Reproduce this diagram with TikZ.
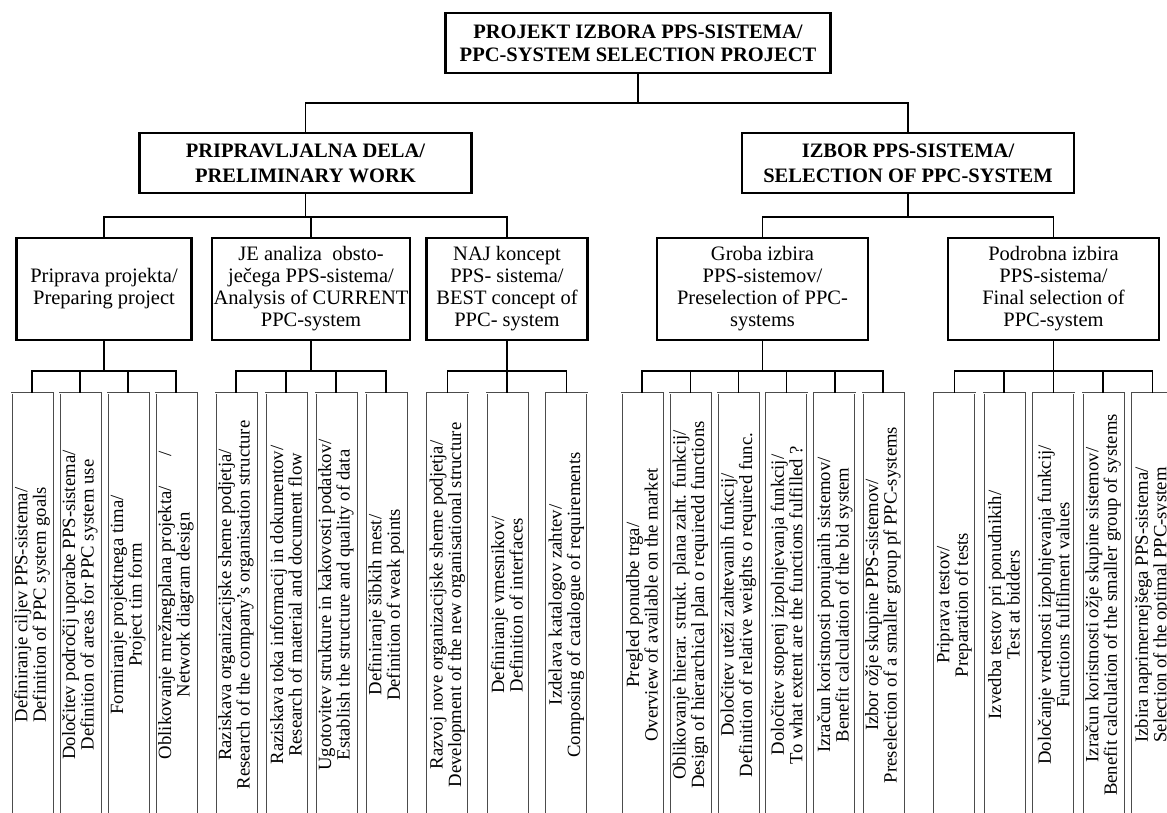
\documentclass[tikz,border=0pt]{standalone}
\usepackage{fontspec}
\setmainfont{Liberation Serif}
\usepackage{tikz}

\tikzset{
  topbox/.style={draw, line width=2.2pt, align=center, inner sep=2pt,
    minimum width=385pt, minimum height=60pt,
    font=\fontsize{20.5}{23}\selectfont\bfseries},
  groupbox/.style={topbox, minimum width=332pt,
    font=\fontsize{20.5}{25}\selectfont\bfseries},
  taskbox/.style={draw, line width=2.2pt, align=center, inner sep=2pt,
    minimum height=102pt, font=\fontsize{20.5}{22}\selectfont},
  leafbox/.style={draw=black!70, double=white, double distance=1pt,
    line width=.5pt, rotate=90, align=center, inner sep=.5pt,
    minimum width=424pt, minimum height=41pt,
    font=\fontsize{18.7}{18.5}\selectfont},
  fork drop/.style={edge from parent path={(\tikzparentnode.south)
    -- ++(0pt,-#1) -| (\tikzchildnode\tikzchildanchor)}}
}

\begin{document}
\begin{tikzpicture}
    [edge from parent/.style={draw, line width=1.4pt},
     level 1/.style={level distance=120pt, child anchor=north, fork drop=29pt},
     level 2/.style={level distance=126pt, child anchor=north, fork drop=23pt},
     level 3/.style={level distance=316pt, child anchor=east, fork drop=30pt}]
  \useasboundingbox (0pt,0pt) rectangle (1167pt,-813pt);
  \node (ROOT) [topbox] at (638pt,-43pt) {PROJEKT IZBORA PPS-SISTEMA/\\PPC-SYSTEM SELECTION PROJECT}
    [sibling distance=596pt]
    child[xshift=-34.5pt] {node (PREP) [groupbox] {PRIPRAVLJALNA DELA/\\PRELIMINARY WORK}
      [sibling distance=201.5pt]
      child {node (PP) [taskbox, minimum width=175pt] {Priprava projekta/\\Preparing project}
        [sibling distance=48pt]
        child {node (PP1) [leafbox] {Definiranje ciljev PPS-sistema/\\Definition of PPC system goals}}
        child {node (PP2) [leafbox] {Določitev področij uporabe PPS-sistema/\\Definition of areas for PPC system use}}
        child {node (PP3) [leafbox] {Formiranje projektnega tima/\\Project tim form}}
        child {node (PP4) [leafbox] {Oblikovanje mrežnegplana projekta/\hspace{30pt}/\\Network diagram design}}
      }
      child[xshift=5.5pt] {node (JE) [taskbox, minimum width=191pt] {JE analiza\ \ obsto-\\ječega PPS-sistema/\\Analysis of CURRENT\\PPC-system}
        [sibling distance=50pt]
        child {node (JE1) [leafbox] {Raziskava organizacijske sheme podjetja/\\Research of the company's organisation structure}}
        child {node (JE2) [leafbox] {Raziskava toka informacij in dokumentov/\\Research of material and document flow}}
        child {node (JE3) [leafbox] {Ugotovitev strukture in kakovosti podatkov/\\Establish the structure and quality of data}}
        child {node (JE4) [leafbox] {Definiranje šibkih mest/\\Definition of weak points}}
      }
      child {node (NAJ) [taskbox, minimum width=161pt] {NAJ koncept\\PPS- sistema/\\BEST concept of\\PPC- system}
        [sibling distance=59.5pt]
        child {node (NAJ1) [leafbox] {Razvoj nove organizacijske sheme podjetja/\\Development of the new organisational structure}}
        child {node (NAJ2) [leafbox] {Definiranje vmesnikov/\\Definition of interfaces}}
        child {node (NAJ3) [leafbox] {Izdelava katalogov zahtev/\\Composing of catalogue of requirements}}
      }
    }
    child[xshift=-28pt] {node (SEL) [groupbox] {IZBOR PPS-SISTEMA/\\SELECTION OF PPC-SYSTEM}
      [sibling distance=291pt]
      child {node (GR) [taskbox, minimum width=211pt] {Groba izbira\\PPS-sistemov/\\Preselection of PPC-\\systems}
        [sibling distance=48.2pt]
        child {node (GR1) [leafbox] {Pregled ponudbe trga/\\Overview of available on the market}}
        child {node (GR2) [leafbox] {Oblikovanje hierar. strukt. plana zaht. funkcij/\\Design of hierarchical plan o requiredd functions}}
        child {node (GR3) [leafbox] {Določitev uteži zahtevanih funkcij/\\Definition of relative weights o required func.}}
        child {node (GR4) [leafbox] {Določitev stopenj izpolnjevanja funkcij/\\To what extent are the functions fulfilled ?}}
        child {node (GR5) [leafbox] {Izračun koristnosti ponujanih sistemov/\\Benefit calculation of the bid system}}
        child {node (GR6) [leafbox] {Izbor ožje skupine PPS-sistemov/\\Preselection of a smaller group pf PPC-systems}}
      }
      child {node (PO) [taskbox, minimum width=211pt] {Podrobna izbira\\PPS-sistema/\\Final selection of\\PPC-system}
        [sibling distance=49.5pt]
        child {node (PO1) [leafbox] {Priprava testov/\\Preparation of tests}}
        child {node (PO2) [leafbox] {Izvedba testov pri ponudnikih/\\Test at bidders}}
        child {node (PO3) [leafbox] {Določanje vrednosti izpolnjevanja funkcij/\\Functions fulfilment values}}
        child {node (PO4) [leafbox] {Izračun koristnosti ožje skupine sistemov/\\Benefit calculation of the smaller group of systems}}
        child {node (PO5) [leafbox] {Izbira naprimernejšega PPS-sistema/\\Selection of the optimal PPC-system}}
      }
    };
\end{tikzpicture}
\end{document}
